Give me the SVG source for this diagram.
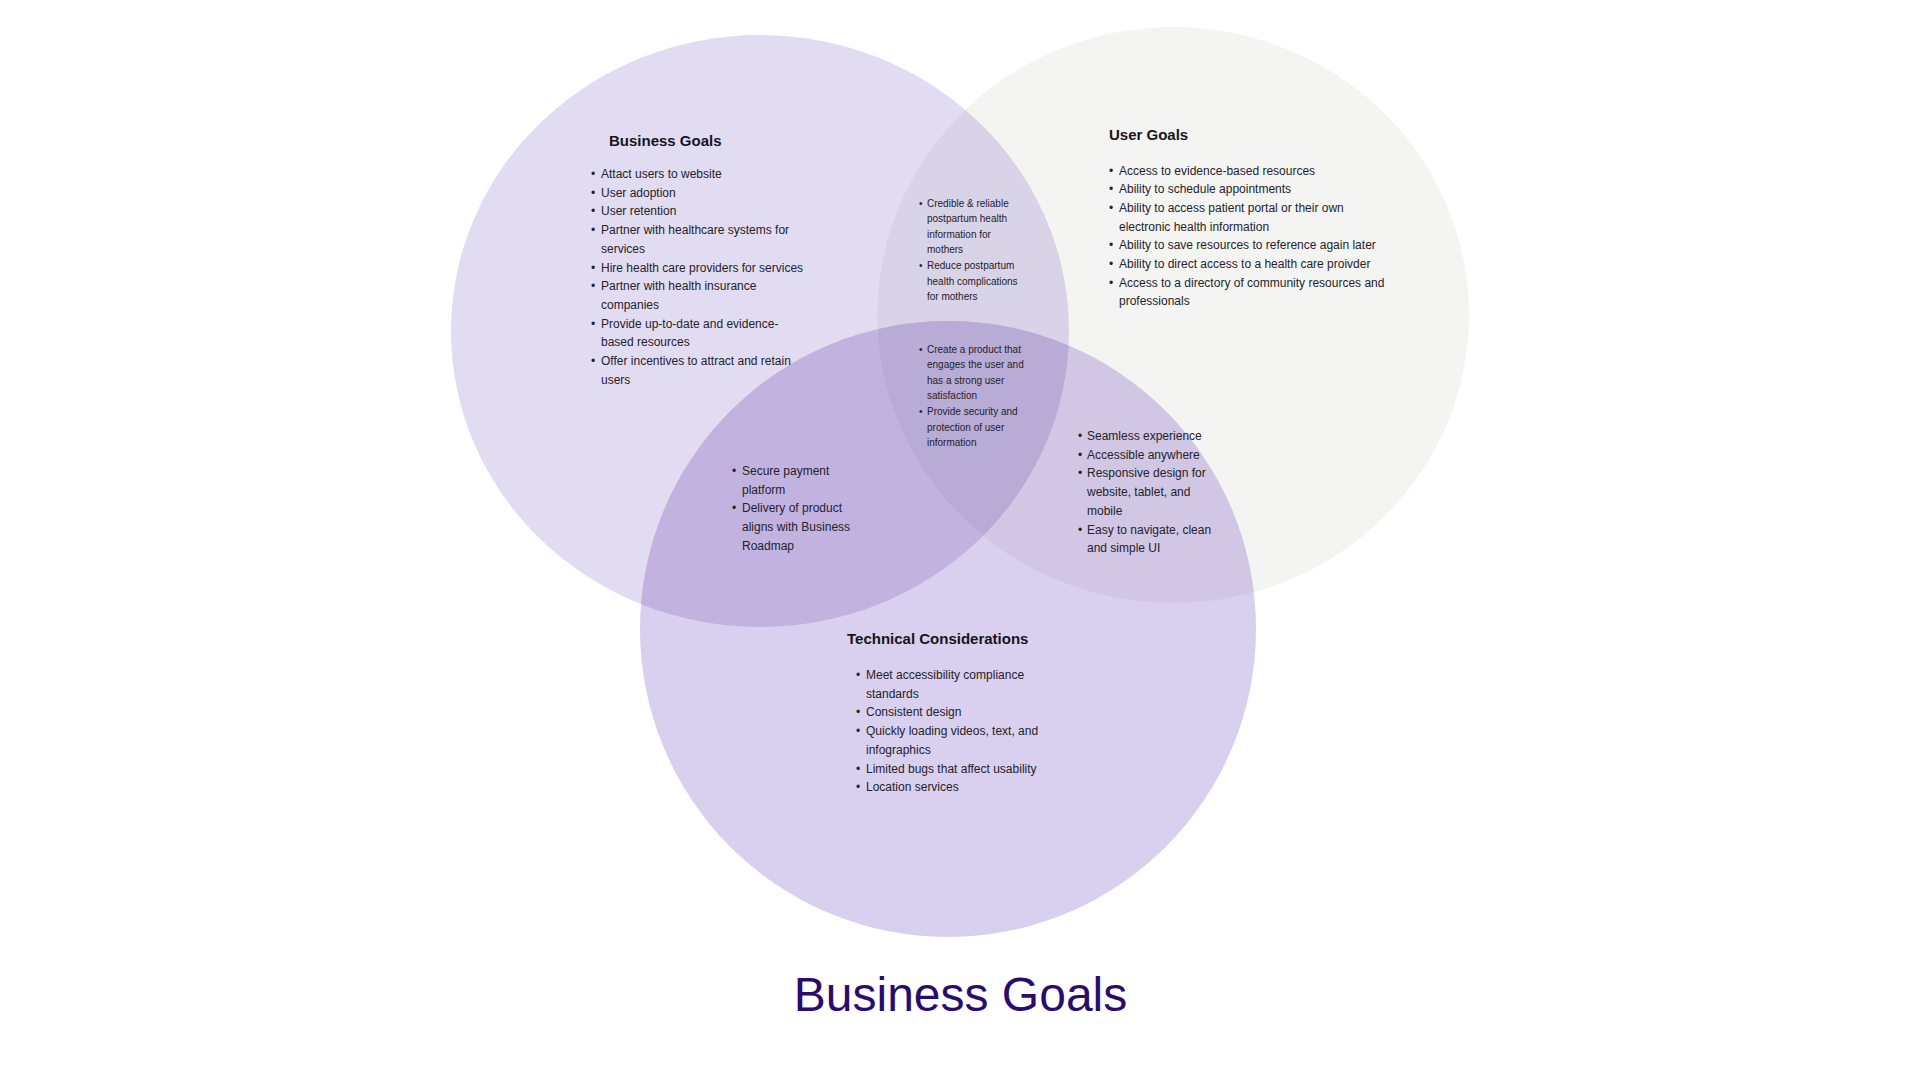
<svg xmlns="http://www.w3.org/2000/svg" width="1920" height="1080" viewBox="0 0 1920 1080">
<style>
.t{font-family:"Liberation Sans",Arial,sans-serif;font-size:12px;fill:#24222c}
.s{font-family:"Liberation Sans",Arial,sans-serif;font-size:10px;fill:#24222c}
.h{font-family:"Liberation Sans",Arial,sans-serif;font-size:15px;font-weight:bold;fill:#16151c}
.big{font-family:"Liberation Sans",Arial,sans-serif;font-size:48px;fill:#2a0b6e}
</style>
<defs>
<ellipse id="eB" cx="760" cy="331" rx="309" ry="296"/>
<ellipse id="eU" cx="1173" cy="315" rx="296" ry="288"/>
<ellipse id="eT" cx="948" cy="629" rx="308" ry="308"/>
<clipPath id="cB"><use href="#eB"/></clipPath>
<clipPath id="cU"><use href="#eU"/></clipPath>
</defs>
<rect width="1920" height="1080" fill="#ffffff"/>
<g id="circles">
<use href="#eB" fill="#e2dcf2"/>
<use href="#eU" fill="#f4f4f3"/>
<use href="#eT" fill="#d9cfee"/>
<use href="#eU" fill="#d8d3e6" clip-path="url(#cB)"/>
<use href="#eT" fill="#c2b2df" clip-path="url(#cB)"/>
<use href="#eT" fill="#d1c6e3" clip-path="url(#cU)"/>
<g clip-path="url(#cU)"><use href="#eT" fill="#b8acd6" clip-path="url(#cB)"/></g>
</g>
<g id="connectors"/>
<g id="business">
<text class="h" x="609" y="146">Business Goals</text>
<text class="t"><tspan x="591" y="178">•</tspan><tspan x="591" y="196.7">•</tspan><tspan x="591" y="215.4">•</tspan><tspan x="591" y="234.1">•</tspan><tspan x="591" y="271.5">•</tspan><tspan x="591" y="290.2">•</tspan><tspan x="591" y="327.6">•</tspan><tspan x="591" y="365">•</tspan></text>
<text class="t"><tspan x="601" y="178">Attact users to website</tspan><tspan x="601" y="196.7">User adoption</tspan><tspan x="601" y="215.4">User retention</tspan><tspan x="601" y="234.1">Partner with healthcare systems for</tspan><tspan x="601" y="252.8">services</tspan><tspan x="601" y="271.5">Hire health care providers for services</tspan><tspan x="601" y="290.2">Partner with health insurance</tspan><tspan x="601" y="308.9">companies</tspan><tspan x="601" y="327.6">Provide up-to-date and evidence-</tspan><tspan x="601" y="346.3">based resources</tspan><tspan x="601" y="365">Offer incentives to attract and retain</tspan><tspan x="601" y="383.7">users</tspan></text>
</g>
<g id="user">
<text class="h" x="1109" y="140">User Goals</text>
<text class="t"><tspan x="1109" y="174.5">•</tspan><tspan x="1109" y="193.2">•</tspan><tspan x="1109" y="211.9">•</tspan><tspan x="1109" y="249.3">•</tspan><tspan x="1109" y="268">•</tspan><tspan x="1109" y="286.7">•</tspan></text>
<text class="t"><tspan x="1119" y="174.5">Access to evidence-based resources</tspan><tspan x="1119" y="193.2">Ability to schedule appointments</tspan><tspan x="1119" y="211.9">Ability to access patient portal or their own</tspan><tspan x="1119" y="230.6">electronic health information</tspan><tspan x="1119" y="249.3">Ability to save resources to reference again later</tspan><tspan x="1119" y="268">Ability to direct access to a health care proivder</tspan><tspan x="1119" y="286.7">Access to a directory of community resources and</tspan><tspan x="1119" y="305.4">professionals</tspan></text>
</g>
<g id="technical">
<text class="h" x="847" y="644">Technical Considerations</text>
<text class="t"><tspan x="856" y="679">•</tspan><tspan x="856" y="716.4">•</tspan><tspan x="856" y="735.1">•</tspan><tspan x="856" y="772.5">•</tspan><tspan x="856" y="791.2">•</tspan></text>
<text class="t"><tspan x="866" y="679">Meet accessibility compliance</tspan><tspan x="866" y="697.7">standards</tspan><tspan x="866" y="716.4">Consistent design</tspan><tspan x="866" y="735.1">Quickly loading videos, text, and</tspan><tspan x="866" y="753.8">infographics</tspan><tspan x="866" y="772.5">Limited bugs that affect usability</tspan><tspan x="866" y="791.2">Location services</tspan></text>
</g>
<g id="business-user">
<text class="s"><tspan x="919" y="206.5">•</tspan><tspan x="919" y="268.9">•</tspan></text>
<text class="s"><tspan x="927" y="206.5">Credible &amp; reliable</tspan><tspan x="927" y="222.1">postpartum health</tspan><tspan x="927" y="237.7">information for</tspan><tspan x="927" y="253.3">mothers</tspan><tspan x="927" y="268.9">Reduce postpartum</tspan><tspan x="927" y="284.5">health complications</tspan><tspan x="927" y="300.1">for mothers</tspan></text>
</g>
<g id="all-three">
<text class="s"><tspan x="919" y="352.5">•</tspan><tspan x="919" y="414.9">•</tspan></text>
<text class="s"><tspan x="927" y="352.5">Create a product that</tspan><tspan x="927" y="368.1">engages the user and</tspan><tspan x="927" y="383.7">has a strong user</tspan><tspan x="927" y="399.3">satisfaction</tspan><tspan x="927" y="414.9">Provide security and</tspan><tspan x="927" y="430.5">protection of user</tspan><tspan x="927" y="446.1">information</tspan></text>
</g>
<g id="business-technical">
<text class="t"><tspan x="732" y="475">•</tspan><tspan x="732" y="512.4">•</tspan></text>
<text class="t"><tspan x="742" y="475">Secure payment</tspan><tspan x="742" y="493.7">platform</tspan><tspan x="742" y="512.4">Delivery of product</tspan><tspan x="742" y="531.1">aligns with Business</tspan><tspan x="742" y="549.8">Roadmap</tspan></text>
</g>
<g id="user-technical">
<text class="t"><tspan x="1078" y="440">•</tspan><tspan x="1078" y="458.7">•</tspan><tspan x="1078" y="477.4">•</tspan><tspan x="1078" y="533.5">•</tspan></text>
<text class="t"><tspan x="1087" y="440">Seamless experience</tspan><tspan x="1087" y="458.7">Accessible anywhere</tspan><tspan x="1087" y="477.4">Responsive design for</tspan><tspan x="1087" y="496.1">website, tablet, and</tspan><tspan x="1087" y="514.8">mobile</tspan><tspan x="1087" y="533.5">Easy to navigate, clean</tspan><tspan x="1087" y="552.2">and simple UI</tspan></text>
</g>
<g id="caption">
<text class="big" x="960.5" y="1011" text-anchor="middle">Business Goals</text>
</g>
</svg>
